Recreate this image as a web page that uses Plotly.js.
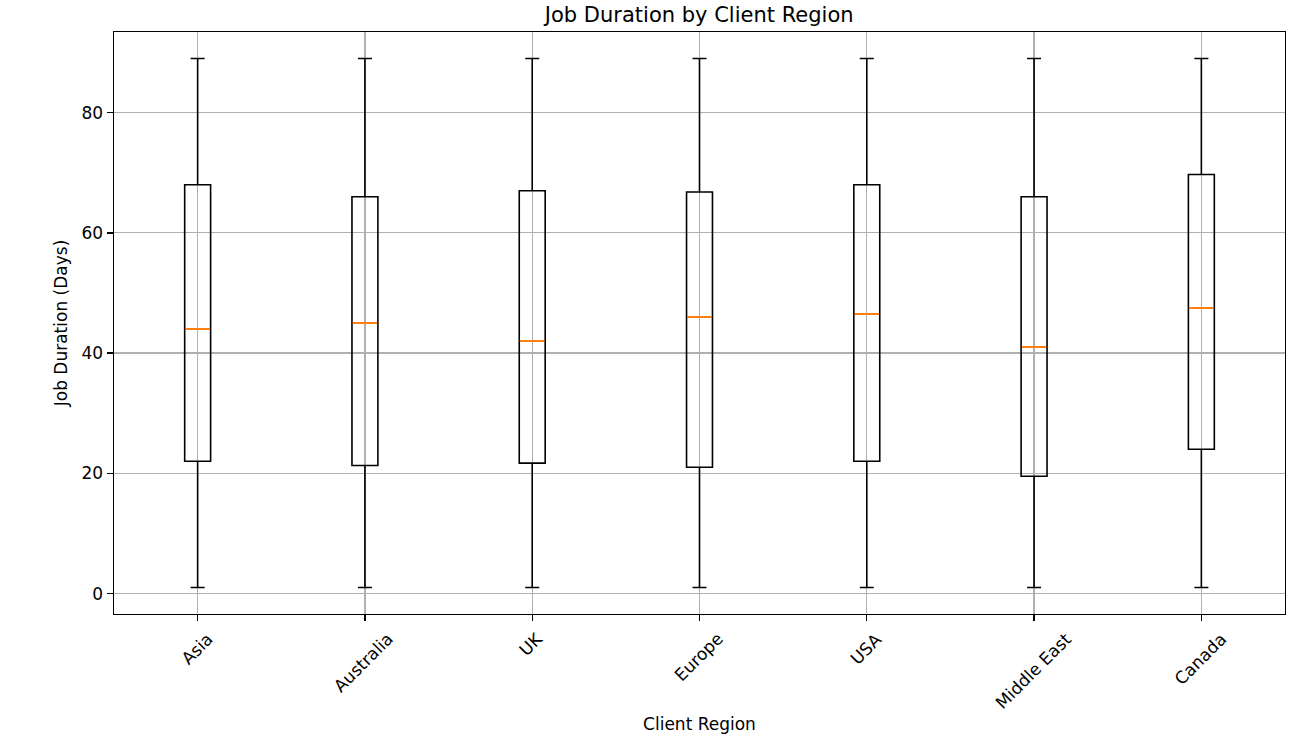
<!DOCTYPE html>
<html>
<head>
<meta charset="utf-8">
<script src="https://cdn.plot.ly/plotly-3.0.1.min.js"></script>
<style>html,body{margin:0;padding:0;background:#fff;}#chart{width:1315px;height:754px;}</style>
</head>
<body>
<div id="chart"></div>
<script>
const regions = ["Asia", "Australia", "UK", "Europe", "USA", "Middle East", "Canada"];
const lowerWhisker = [1, 1, 1, 1, 1, 1, 1];
const q1Values = [22, 21.3, 21.7, 21, 22, 19.5, 24];
const medianValues = [44, 45, 42, 46, 46.5, 41, 47.5];
const q3Values = [68, 66, 67, 66.8, 68, 66, 69.7];
const upperWhisker = [89, 89, 89, 89, 89, 89, 89];
const yTicks = [0, 20, 40, 60, 80];

const positions = regions.map((_, i) => i + 1);
const font = "DejaVu Sans, sans-serif";
const fs = 17;

const boxTrace = {
  type: "box",
  x: positions,
  q1: q1Values,
  median: medianValues,
  q3: q3Values,
  lowerfence: lowerWhisker,
  upperfence: upperWhisker,
  width: 0.155,
  whiskerwidth: 0.54,
  fillcolor: "rgba(0,0,0,0)",
  line: {color: "#000000", width: 1.6},
  boxpoints: false,
  hoverinfo: "skip",
  showlegend: false
};

const medianTrace = {
  type: "box",
  x: positions,
  q1: medianValues,
  median: medianValues,
  q3: medianValues,
  lowerfence: medianValues,
  upperfence: medianValues,
  width: 0.148,
  whiskerwidth: 0,
  fillcolor: "rgba(0,0,0,0)",
  line: {color: "#ff7f0e", width: 2},
  boxpoints: false,
  hoverinfo: "skip",
  showlegend: false
};

const tickAnnotations = regions.map((r, i) => ({
  x: positions[i], xref: "x",
  y: 0, yref: "paper",
  yshift: -12,
  xshift: -1,
  text: r,
  showarrow: false,
  textangle: -45,
  xanchor: "center",
  yanchor: "top",
  font: {family: font, size: fs, color: "#000000"}
}));

const layout = {
  width: 1315,
  height: 754,
  margin: {l: 114, r: 30, t: 32, b: 140},
  paper_bgcolor: "#ffffff",
  plot_bgcolor: "#ffffff",
  boxmode: "overlay",
  font: {family: font, size: fs, color: "#000000"},
  title: {text: "Job Duration by Client Region", font: {family: font, size: 21, color: "#000000"}, x: 0.5317, xanchor: "center", y: 0.980, yanchor: "middle"},
  annotations: tickAnnotations,
  xaxis: {
    range: [0.5, 7.5],
    tickvals: positions,
    showticklabels: false,
    showgrid: true,
    gridcolor: "#b0b0b0",
    gridwidth: 1.3,
    zeroline: false,
    showline: true,
    mirror: true,
    linecolor: "#000000",
    linewidth: 1.4,
    ticks: "outside",
    ticklen: 6,
    tickwidth: 1.4,
    tickcolor: "#000000",
    title: {text: "Client Region", font: {family: font, size: fs, color: "#000000"}, standoff: 97}
  },
  yaxis: {
    range: [-3.4, 93.4],
    tickvals: yTicks,
    showgrid: true,
    gridcolor: "#b0b0b0",
    gridwidth: 1.3,
    zeroline: false,
    showline: true,
    mirror: true,
    linecolor: "#000000",
    linewidth: 1.4,
    ticks: "outside",
    ticklen: 6,
    tickwidth: 1.4,
    tickcolor: "#000000",
    tickfont: {family: font, size: fs, color: "#000000"},
    title: {text: "Job Duration (Days)", font: {family: font, size: fs, color: "#000000"}, standoff: 9}
  }
};

Plotly.newPlot("chart", [boxTrace, medianTrace], layout, {displayModeBar: false, staticPlot: true});
</script>
</body>
</html>
